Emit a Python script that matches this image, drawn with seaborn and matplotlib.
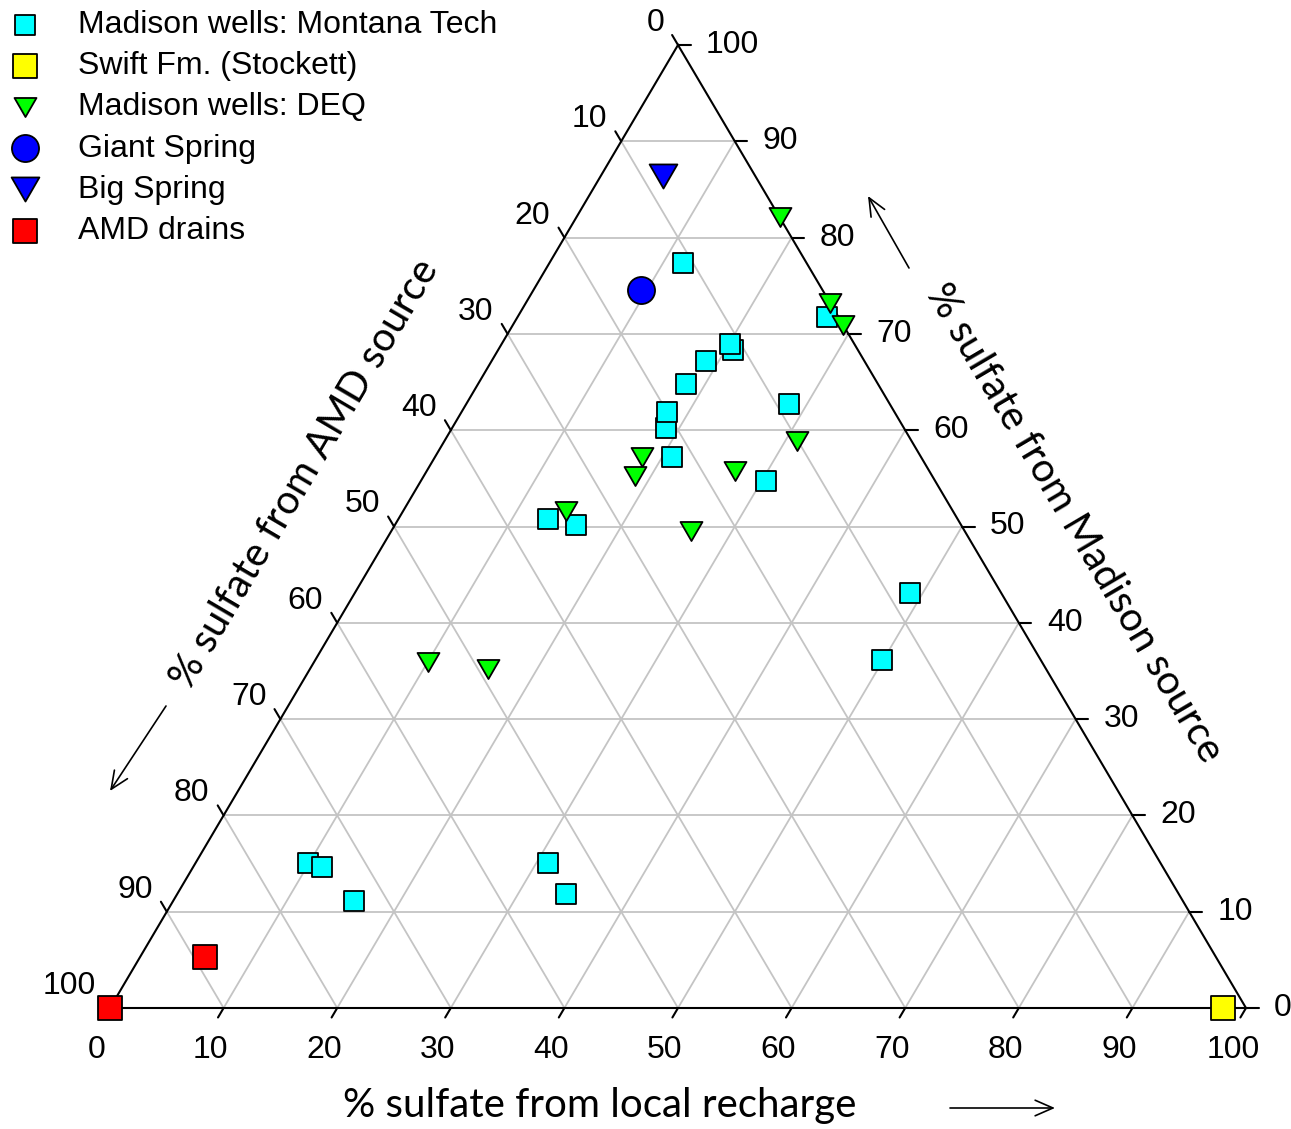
import numpy as np
import matplotlib
matplotlib.use("Agg")
import matplotlib.pyplot as plt
from matplotlib.path import Path
import seaborn as sns

# ---- ternary data: % sulfate from local recharge (r) and Madison source (m);
# the AMD share is the remainder 100 - r - m
mt_recharge = [11.7, 27.2, 20.7, 20.1, 18.9, 18.3, 18.8, 18.1, 20.9, 28.4,
               30.4, 13.2, 15.9, 48.9, 49.9, 9.9, 11.4, 15.9, 31.0, 34.2]
mt_madison = [77.4, 71.8, 68.3, 69.0, 67.2, 64.8, 60.2, 61.9, 57.2, 62.7,
              54.7, 50.8, 50.2, 43.1, 36.1, 15.1, 14.6, 11.1, 15.1, 11.8]

swift_recharge = [98.0]
swift_madison = [0.0]

deq_recharge = [17.9, 26.8, 29.1, 31.0, 18.2, 18.6, 27.1, 14.3, 26.4, 10.0, 15.7]
deq_madison = [82.1, 73.2, 70.9, 58.9, 57.2, 55.2, 55.8, 51.6, 49.5, 35.9, 35.2]

giant_recharge = [9.4]
giant_madison = [74.6]

big_recharge = [5.5]
big_madison = [86.4]

amd_recharge = [0.0, 5.7]
amd_madison = [0.0, 5.3]

ticks = list(range(0, 101, 10))

# pixel scale of the triangle (horizontal / vertical units)
PX_X = 11.36
PX_Y = 9.63


def to_xy(r, m):
    """Ternary (recharge, madison) -> cartesian plot coordinates."""
    r = np.asarray(r, dtype=float)
    m = np.asarray(m, dtype=float)
    return r + m / 2.0, m


sns.set_style("white")
plt.rcParams["font.family"] = ["Liberation Sans", "DejaVu Sans"]
plt.rcParams["text.color"] = "black"

fig = plt.figure(figsize=(12.91, 11.29), dpi=100)
ax = fig.add_axes([0, 0, 1, 1])
ax.set_xlim(-110 / PX_X, (1291 - 110) / PX_X)
ax.set_ylim(-121 / PX_Y, 1008 / PX_Y)
ax.axis("off")

grid_kw = dict(color="#c4c4c4", lw=1.3, zorder=1)
for v in ticks[1:-1]:
    # constant Madison share
    x, y = to_xy([0, 100 - v], [v, v])
    ax.plot(x, y, **grid_kw)
    # constant recharge share
    x, y = to_xy([v, v], [0, 100 - v])
    ax.plot(x, y, **grid_kw)
    # constant AMD share
    x, y = to_xy([0, 100 - v], [100 - v, 0])
    ax.plot(x, y, **grid_kw)

# triangle frame
x, y = to_xy([0, 100, 0, 0], [0, 0, 100, 0])
ax.plot(x, y, color="black", lw=1.5, zorder=2, solid_joinstyle="miter")

# tick marks and labels
tick_kw = dict(color="black", lw=1.5, zorder=2)
lab_kw = dict(fontsize=23, color="black", textcoords="offset pixels", annotation_clip=False)
for v in ticks:
    # bottom axis: recharge
    bx, by = to_xy(v, 0)
    ax.plot([bx, bx - 5.6 / PX_X], [by, by - 9.5 / PX_Y], **tick_kw)
    ax.annotate(f"{v}", (bx, by), xytext=(-13, -42), ha="center", va="center", **lab_kw)
    # right axis: Madison
    rx, ry = to_xy(100 - v, v)
    ax.plot([rx, rx + 12.5 / PX_X], [ry, ry], **tick_kw)
    ax.annotate(f"{v}", (rx, ry), xytext=(28, 0), ha="left", va="center", **lab_kw)
    # left axis: AMD
    lx, ly = to_xy(0, 100 - v)
    ax.plot([lx, lx - 5.9 / PX_X], [ly, ly + 10.0 / PX_Y], **tick_kw)
    ax.annotate(f"{v}", (lx, ly), xytext=(-14, 22), ha="right", va="center", **lab_kw)

# down-pointing triangle marker, width equal to the marker size
tri_down = Path([(-1, 0.866), (1, 0.866), (0, -0.866), (-1, 0.866)],
                [Path.MOVETO, Path.LINETO, Path.LINETO, Path.CLOSEPOLY])

series = [
    ("Madison wells: Montana Tech", mt_recharge, mt_madison, "s", 196, "#00ffff"),
    ("Swift Fm. (Stockett)", swift_recharge, swift_madison, "s", 317, "#ffff00"),
    ("Madison wells: DEQ", deq_recharge, deq_madison, tri_down, 250, "#00ff00"),
    ("Giant Spring", giant_recharge, giant_madison, "o", 380, "#0000ff"),
    ("Big Spring", big_recharge, big_madison, tri_down, 400, "#0000ff"),
    ("AMD drains", amd_recharge, amd_madison, "s", 317, "#ff0000"),
]
for i, (name, r, m, mk, size, col) in enumerate(series):
    x, y = to_xy(r, m)
    sns.scatterplot(x=x, y=y, marker=mk, s=size, color=col, edgecolor="black",
                    linewidth=1.3, label=name, ax=ax, zorder=5 + i, clip_on=False)

leg = ax.legend(loc="upper left", bbox_to_anchor=(0, 1 - 10 / 1129), bbox_transform=fig.transFigure,
                frameon=False, fontsize=23, borderpad=0, borderaxespad=0,
                handlelength=1.56, handletextpad=0.87, labelspacing=0.35,
                scatterpoints=1)
for t in leg.get_texts():
    t.set_color("black")

# axis titles
title_font = dict(fontsize=29, color="black", family=["Lato", "DejaVu Sans"],
                  ha="center", va="center", rotation_mode="anchor")
ax.text((600 - 110) / PX_X, (1008 - 1106) / PX_Y, "% sulfate from local recharge",
        **title_font)
ax.text((305 - 110) / PX_X, (1008 - 474) / PX_Y, "% sulfate from AMD source",
        rotation=59.47, **title_font)
ax.text((1074 - 110) / PX_X, (1008 - 523) / PX_Y, "% sulfate from Madison source",
        rotation=-59.47, **title_font)

# direction arrows
arrow_kw = dict(arrowstyle="->,head_length=0.8,head_width=0.35", lw=1.2,
                color="black", mutation_scale=16, shrinkA=0, shrinkB=0)
ax.annotate("", xy=((1055 - 110) / PX_X, (1008 - 1108) / PX_Y),
            xytext=((950 - 110) / PX_X, (1008 - 1108) / PX_Y),
            arrowprops=arrow_kw, annotation_clip=False)
ax.annotate("", xy=((868 - 110) / PX_X, (1008 - 196) / PX_Y),
            xytext=((909 - 110) / PX_X, (1008 - 268) / PX_Y),
            arrowprops=arrow_kw, annotation_clip=False)
ax.annotate("", xy=((110 - 110) / PX_X, (1008 - 791) / PX_Y),
            xytext=((166 - 110) / PX_X, (1008 - 706) / PX_Y),
            arrowprops=arrow_kw, annotation_clip=False)

fig.savefig("out.png", dpi=100)
